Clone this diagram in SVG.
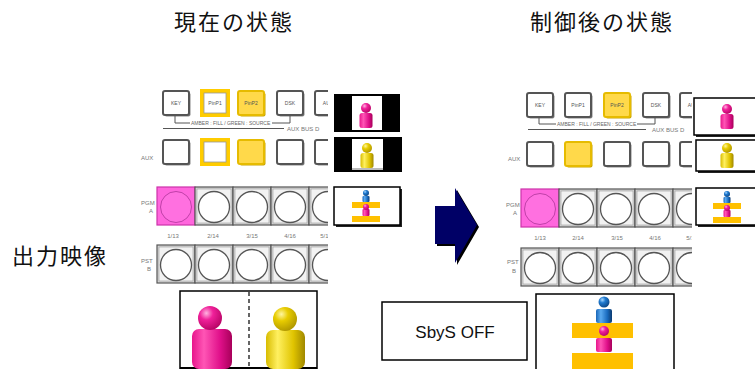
<svg xmlns="http://www.w3.org/2000/svg" xmlns:xlink="http://www.w3.org/1999/xlink" width="755" height="369" viewBox="0 0 755 369">
  <style>
    .title { font-family: "Noto Sans CJK JP", "Noto Sans CJK SC", sans-serif; font-size: 22px; fill: #111; letter-spacing: 2px; }
    .tiny { font-family: "Liberation Sans", Arial, sans-serif; font-size: 5px; fill: #666; }
    .lbl { font-family: "Liberation Sans", Arial, sans-serif; font-size: 6px; fill: #777; }
    .btnTxt { font-family: "Liberation Sans", Arial, sans-serif; font-size: 5px; fill: #555; text-anchor: middle; }
    .box { fill: #fff; stroke: #000; stroke-width: 1.5; }
    .bar { fill: #ffc000; }
  </style>
  <defs>
    <radialGradient id="gPink" cx="0.35" cy="0.3" r="0.8">
      <stop offset="0" stop-color="#ffb3e0"/>
      <stop offset="0.35" stop-color="#f0209a"/>
      <stop offset="1" stop-color="#b0005e"/>
    </radialGradient>
    <linearGradient id="lPink" x1="0" x2="1" y1="0" y2="0">
      <stop offset="0" stop-color="#e8168c"/>
      <stop offset="0.3" stop-color="#ff55b5"/>
      <stop offset="0.7" stop-color="#e0108a"/>
      <stop offset="1" stop-color="#a8005a"/>
    </linearGradient>
    <radialGradient id="gYel" cx="0.35" cy="0.3" r="0.8">
      <stop offset="0" stop-color="#fff6a0"/>
      <stop offset="0.35" stop-color="#e8cc00"/>
      <stop offset="1" stop-color="#a89000"/>
    </radialGradient>
    <linearGradient id="lYel" x1="0" x2="1" y1="0" y2="0">
      <stop offset="0" stop-color="#d8bc00"/>
      <stop offset="0.3" stop-color="#fff060"/>
      <stop offset="0.7" stop-color="#e0c400"/>
      <stop offset="1" stop-color="#a08800"/>
    </linearGradient>
    <radialGradient id="gBlue" cx="0.35" cy="0.3" r="0.8">
      <stop offset="0" stop-color="#a8d8ff"/>
      <stop offset="0.35" stop-color="#1f7ad0"/>
      <stop offset="1" stop-color="#0a3f7a"/>
    </radialGradient>
    <linearGradient id="lBlue" x1="0" x2="1" y1="0" y2="0">
      <stop offset="0" stop-color="#1a66b8"/>
      <stop offset="0.3" stop-color="#5aaaf0"/>
      <stop offset="0.7" stop-color="#1a6cc0"/>
      <stop offset="1" stop-color="#0a3a70"/>
    </linearGradient>

    <!-- square selector key, 26x24 -->
    <g id="sq">
      <rect x="1.5" y="1.5" width="26" height="24" rx="2" fill="#888"/>
      <rect x="0" y="0" width="26" height="24" rx="2" fill="#fff" stroke="#555" stroke-width="2"/>
    </g>
    <g id="sqOn">
      <rect x="1.5" y="1.5" width="26" height="24" rx="2" fill="#c9a400"/>
      <rect x="0" y="0" width="26" height="24" rx="2" fill="#ffd94a" stroke="#e6bb00" stroke-width="2"/>
    </g>
    <g id="sqLit">
      <rect x="-2" y="-2" width="30" height="28" fill="#ffcc00"/>
      <rect x="2" y="2" width="22" height="20" fill="#fff" stroke="#999" stroke-width="0.8"/>
    </g>

    <!-- round crosspoint key, 38x38 cell -->
    <g id="cell">
      <rect x="0" y="0" width="38" height="38" fill="#d6d6d6" stroke="#555" stroke-width="1.2"/>
      <rect x="2" y="2" width="34" height="34" fill="#f2f2f2" stroke="#999" stroke-width="0.6"/>
      <circle cx="19" cy="20" r="15.5" fill="#fff" stroke="#555" stroke-width="1.3"/>
    </g>
    <g id="cellPink">
      <rect x="0" y="0" width="38" height="38" fill="#ff66dd" stroke="#cc33aa" stroke-width="1.2"/>
      <circle cx="19" cy="20" r="15.5" fill="#ff70e0" stroke="#c040a8" stroke-width="1"/>
    </g>

    <!-- small figure for monitors, origin at head centre -->
    <g id="pinkSmall">
      <rect x="-6.5" y="5" width="13" height="15" rx="2.5" fill="url(#lPink)"/>
      <circle cx="0" cy="0" r="5" fill="url(#gPink)"/>
    </g>
    <g id="yelSmall">
      <rect x="-6.5" y="5" width="13" height="15" rx="2.5" fill="url(#lYel)"/>
      <circle cx="0" cy="0" r="5" fill="url(#gYel)"/>
    </g>
    <!-- stacked blue over pink on bars, origin at blue head -->
    <g id="stack">
      <rect x="-14" y="9" width="28" height="6" class="bar"/>
      <rect x="-14" y="23" width="28" height="6" class="bar"/>
      <rect x="-3.5" y="3" width="7" height="6" rx="1" fill="url(#lBlue)"/>
      <circle cx="0" cy="0" r="3" fill="url(#gBlue)"/>
      <rect x="-3.5" y="16" width="7" height="7" rx="1" fill="url(#lPink)"/>
      <circle cx="0" cy="14" r="3" fill="url(#gPink)"/>
    </g>
  </defs>

  <!-- headings -->
  <g id="heading-before"><text class="title" x="174" y="30">現在の状態</text></g>
  <g id="heading-after"><text class="title" x="530" y="30">制御後の状態</text></g>
  <g id="label-output"><text class="title" x="12" y="264" font-size="23" letter-spacing="4">出力映像</text></g>

  <!-- ===== before: control panel ===== -->
  <g id="panel-before">
    <clipPath id="clipL"><rect x="130" y="80" width="198" height="210"/></clipPath>
    <g clip-path="url(#clipL)">
      <!-- key row -->
      <use xlink:href="#sq" x="163" y="91"/>
      <text class="btnTxt" x="176" y="105">KEY</text>
      <use xlink:href="#sqLit" x="202" y="91"/>
      <text class="btnTxt" x="215" y="105">PinP1</text>
      <use xlink:href="#sqOn" x="238" y="91"/>
      <text class="btnTxt" x="251" y="105" fill="#e0a800">PinP2</text>
      <use xlink:href="#sq" x="277" y="91"/>
      <text class="btnTxt" x="290" y="105">DSK</text>
      <use xlink:href="#sq" x="315" y="91"/>
      <text class="btnTxt" x="328" y="105">AUX</text>
      <path d="M175 116 V123 H190 M272 123 H290 V116" fill="none" stroke="#555" stroke-width="1"/>
      <text class="tiny" x="191" y="125" font-size="4">AMBER : FILL / GREEN : SOURCE</text>
      <line x1="163" y1="128.5" x2="284" y2="128.5" stroke="#555" stroke-width="1"/>
      <text class="lbl" x="287" y="131">AUX BUS D</text>

      <!-- aux row -->
      <use xlink:href="#sq" x="163" y="140"/>
      <use xlink:href="#sqLit" x="202" y="140"/>
      <use xlink:href="#sqOn" x="238" y="140"/>
      <use xlink:href="#sq" x="277" y="140"/>
      <use xlink:href="#sq" x="315" y="140"/>

      <!-- PGM row -->
      <use xlink:href="#cellPink" x="157" y="187"/>
      <use xlink:href="#cell" x="195" y="187"/>
      <use xlink:href="#cell" x="233" y="187"/>
      <use xlink:href="#cell" x="271" y="187"/>
      <use xlink:href="#cell" x="309" y="187"/>
      <text class="lbl" x="173" y="238" text-anchor="middle">1/13</text>
      <text class="lbl" x="213" y="238" text-anchor="middle">2/14</text>
      <text class="lbl" x="252" y="238" text-anchor="middle">3/15</text>
      <text class="lbl" x="290" y="238" text-anchor="middle">4/16</text>
      <text class="lbl" x="326" y="238" text-anchor="middle">5/17</text>

      <!-- PST row -->
      <use xlink:href="#cell" x="157" y="245"/>
      <use xlink:href="#cell" x="195" y="245"/>
      <use xlink:href="#cell" x="233" y="245"/>
      <use xlink:href="#cell" x="271" y="245"/>
      <use xlink:href="#cell" x="309" y="245"/>
    </g>
    <text class="lbl" x="141" y="160">AUX</text>
    <text class="lbl" x="141" y="205">PGM</text>
    <text class="lbl" x="149" y="213">A</text>
    <text class="lbl" x="141" y="263">PST</text>
    <text class="lbl" x="147" y="271">B</text>
  </g>

  <!-- before: monitors -->
  <g id="mon-before-1">
    <rect x="334" y="94" width="66" height="38" fill="#000"/>
    <rect x="352" y="96" width="30" height="34" fill="#fff"/>
    <use xlink:href="#pinkSmall" x="366" y="108"/>
  </g>
  <g id="mon-before-2">
    <rect x="334" y="137" width="68" height="35" fill="#000"/>
    <rect x="352" y="139" width="31" height="31" fill="#fff"/>
    <use xlink:href="#yelSmall" x="367" y="148"/>
    <rect x="352" y="168" width="31" height="2" fill="#bbb"/>
  </g>
  <g id="mon-before-3">
    <rect x="336" y="189" width="66" height="38" fill="#222"/>
    <rect x="334" y="187" width="66" height="38" class="box"/>
    <use xlink:href="#stack" x="366" y="193"/>
  </g>

  <!-- before: side-by-side output -->
  <g id="out-before">
    <rect x="180" y="291" width="137" height="78" fill="#fff" stroke="#000" stroke-width="1.5"/>
    <line x1="180" y1="368" x2="317" y2="368" stroke="#000" stroke-width="2"/>
    <line x1="249" y1="292" x2="249" y2="368" stroke="#333" stroke-width="1.5" stroke-dasharray="4 3"/>
    <rect x="192" y="329" width="40" height="40" rx="7" fill="url(#lPink)"/>
    <circle cx="210" cy="318" r="12" fill="url(#gPink)"/>
    <rect x="266" y="330" width="39" height="39" rx="7" fill="url(#lYel)"/>
    <circle cx="285" cy="319" r="12" fill="url(#gYel)"/>
  </g>

  <!-- transition arrow -->
  <g id="connectors">
    <polygon points="437,208 457,208 457,190 479,227 457,265 457,246 437,246" fill="#000"/>
    <polygon points="435,206 455,206 455,188 477,225 455,263 455,244 435,244" fill="#000066"/>
  </g>

  <!-- ===== after: control panel ===== -->
  <g id="panel-after">
    <clipPath id="clipR"><rect x="500" y="80" width="192" height="210"/></clipPath>
    <g clip-path="url(#clipR)">
      <use xlink:href="#sq" x="527" y="93"/>
      <text class="btnTxt" x="540" y="107">KEY</text>
      <use xlink:href="#sq" x="565" y="93"/>
      <text class="btnTxt" x="578" y="107">PinP1</text>
      <use xlink:href="#sqOn" x="604" y="93"/>
      <text class="btnTxt" x="617" y="107" fill="#e0a800">PinP2</text>
      <use xlink:href="#sq" x="643" y="93"/>
      <text class="btnTxt" x="656" y="107">DSK</text>
      <use xlink:href="#sq" x="680" y="93"/>
      <text class="btnTxt" x="693" y="107">AUX</text>
      <path d="M539 118 V124 H556 M637 124 H655 V118" fill="none" stroke="#555" stroke-width="1"/>
      <text class="tiny" x="557" y="126" font-size="4">AMBER : FILL / GREEN : SOURCE</text>
      <line x1="528" y1="129.5" x2="646" y2="129.5" stroke="#555" stroke-width="1"/>
      <text class="lbl" x="652" y="132">AUX BUS D</text>

      <use xlink:href="#sq" x="527" y="142"/>
      <use xlink:href="#sqOn" x="565" y="142"/>
      <use xlink:href="#sq" x="604" y="142"/>
      <use xlink:href="#sq" x="643" y="142"/>
      <use xlink:href="#sq" x="680" y="142"/>

      <use xlink:href="#cellPink" x="521" y="189"/>
      <use xlink:href="#cell" x="559" y="189"/>
      <use xlink:href="#cell" x="597" y="189"/>
      <use xlink:href="#cell" x="635" y="189"/>
      <use xlink:href="#cell" x="673" y="189"/>
      <text class="lbl" x="540" y="240" text-anchor="middle">1/13</text>
      <text class="lbl" x="578" y="240" text-anchor="middle">2/14</text>
      <text class="lbl" x="617" y="240" text-anchor="middle">3/15</text>
      <text class="lbl" x="655" y="240" text-anchor="middle">4/16</text>
      <text class="lbl" x="692" y="240" text-anchor="middle">5/17</text>

      <use xlink:href="#cell" x="521" y="248"/>
      <use xlink:href="#cell" x="559" y="248"/>
      <use xlink:href="#cell" x="597" y="248"/>
      <use xlink:href="#cell" x="635" y="248"/>
      <use xlink:href="#cell" x="673" y="248"/>
    </g>
    <text class="lbl" x="508" y="161">AUX</text>
    <text class="lbl" x="506" y="207">PGM</text>
    <text class="lbl" x="513" y="215">A</text>
    <text class="lbl" x="507" y="264">PST</text>
    <text class="lbl" x="512" y="273">B</text>
  </g>

  <!-- after: monitors -->
  <g id="mon-after-1">
    <rect x="696" y="100" width="66" height="37" fill="#222"/>
    <rect x="694" y="98" width="66" height="37" class="box"/>
    <use xlink:href="#pinkSmall" x="727" y="109"/>
  </g>
  <g id="mon-after-2">
    <rect x="698" y="142" width="66" height="31" fill="#222"/>
    <rect x="696" y="140" width="66" height="31" class="box"/>
    <use xlink:href="#yelSmall" x="727" y="148"/>
  </g>
  <g id="mon-after-3">
    <rect x="698" y="190" width="66" height="37" fill="#222"/>
    <rect x="696" y="188" width="66" height="37" class="box"/>
    <use xlink:href="#stack" x="727" y="194"/>
  </g>

  <!-- after: SbyS off state -->
  <g id="sbys-off">
    <rect x="382" y="302" width="145" height="58" class="box"/>
    <text x="455" y="338" text-anchor="middle" font-family="Liberation Sans, Arial, sans-serif" font-size="17" fill="#111">SbyS OFF</text>
  </g>

  <!-- after: PinP output -->
  <g id="out-after">
    <rect x="536" y="294" width="138" height="80" class="box"/>
    <rect x="572" y="323" width="61" height="15" class="bar"/>
    <rect x="572" y="353" width="61" height="16" class="bar"/>
    <rect x="596" y="309" width="16" height="14" rx="2" fill="url(#lBlue)"/>
    <circle cx="604" cy="302" r="5.5" fill="url(#gBlue)"/>
    <rect x="596" y="338" width="16" height="14" rx="2" fill="url(#lPink)"/>
    <circle cx="604" cy="331" r="5" fill="url(#gPink)"/>
  </g>
</svg>
